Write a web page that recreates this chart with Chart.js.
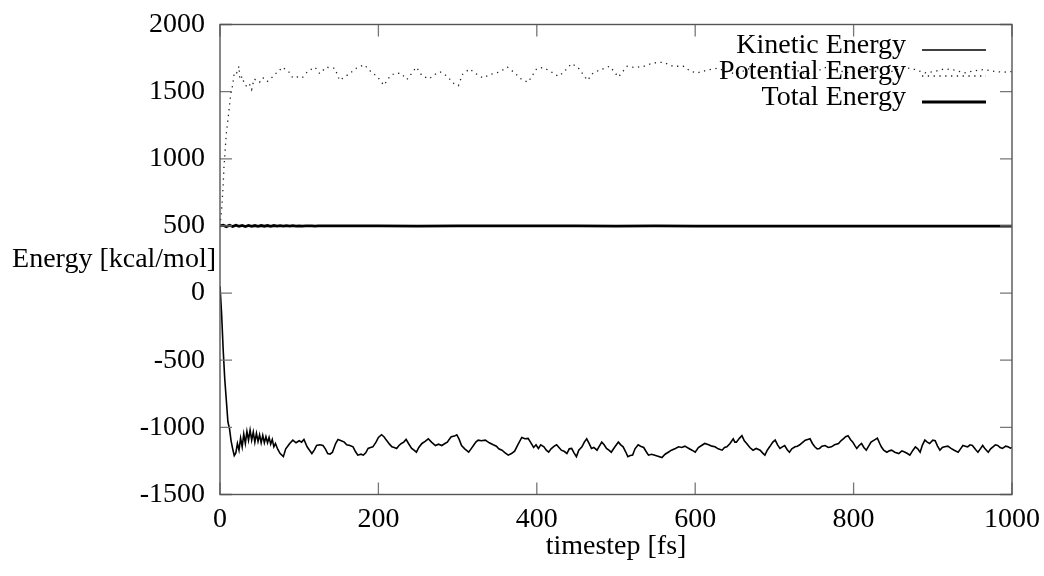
<!DOCTYPE html>
<html>
<head>
<meta charset="utf-8">
<script src="https://cdn.jsdelivr.net/npm/chart.js@4"></script>
<style>
  body { margin: 0; background: #fff; }
  canvas { display: block; }
</style>
</head>
<body>
<canvas id="myChart" width="1044" height="576"></canvas>
<script>
// tick labels
const xTicks = [0, 200, 400, 600, 800, 1000];
const yTicks = [-1500, -1000, -500, 0, 500, 1000, 1500, 2000];

const seriesNames = ['Kinetic Energy', 'Potential Energy', 'Total Energy'];

// thin solid line
const kineticTime = [
  0, 2, 4, 6, 8, 10, 12, 14, 16, 18,
  20, 22, 24, 26, 28, 30, 32, 34, 36, 38,
  40, 42, 44, 46, 48, 50, 52, 54, 56, 58,
  60, 62, 64, 66, 68, 70, 73, 76, 80, 83,
  85, 88, 92, 96, 100, 103, 106, 110, 113, 116,
  119, 122, 126, 130, 133, 136, 139, 142, 146, 149,
  153, 157, 160, 164, 168, 171, 174, 178, 181, 184,
  187, 190, 193, 197, 200, 204, 207, 210, 214, 217,
  220, 223, 226, 229, 232, 235, 238, 242, 245, 248,
  251, 255, 259, 263, 267, 272, 276, 280, 284, 287,
  290, 292, 296, 299, 302, 305, 309, 314, 317, 320,
  323, 326, 330, 335, 340, 345, 349, 352, 356, 360,
  364, 368, 372, 376, 381, 385, 389, 392, 396, 399,
  402, 405, 409, 412, 415, 418, 422, 425, 428, 431,
  435, 438, 441, 444, 447, 450, 453, 457, 460, 463,
  466, 469, 472, 476, 479, 482, 485, 488, 491, 494,
  498, 503, 506, 509, 512, 515, 518, 521, 524, 528,
  531, 535, 538, 541, 545, 549, 553, 558, 562, 566,
  570, 575, 579, 583, 587, 592, 596, 600, 604, 608,
  612, 617, 621, 625, 629, 634, 637, 640, 644, 648,
  650, 652, 656, 659, 662, 665, 669, 673, 677, 682,
  685, 688, 691, 694, 698, 701, 704, 707, 710, 713,
  716, 719, 722, 726, 729, 732, 736, 739, 742, 745,
  748, 751, 754, 757, 760, 764, 768, 772, 776, 781,
  784, 787, 790, 793, 796, 799, 802, 804, 807, 810,
  813, 816, 819, 822, 826, 830, 833, 835, 838, 842,
  845, 848, 852, 857, 861, 865, 868, 871, 875, 878,
  881, 884, 887, 890, 893, 896, 900, 903, 906, 909,
  912, 915, 919, 923, 927, 932, 935, 938, 941, 944,
  947, 950, 954, 957, 960, 963, 966, 970, 973, 976,
  979, 982, 985, 988, 992, 995, 998, 1000
];
const kineticEnergy = [
  50, -150, -420, -640, -800, -960, -1010, -1100, -1160, -1210,
  -1190, -1120, -1170, -1080, -1145, -1050, -1120, -1030, -1095, -1020,
  -1095, -1035, -1110, -1045, -1105, -1055, -1115, -1060, -1115, -1070,
  -1115, -1075, -1125, -1090, -1145, -1120, -1165, -1195, -1218, -1160,
  -1145, -1120, -1095, -1115, -1100, -1110, -1090, -1145, -1170, -1195,
  -1170, -1135, -1130, -1135, -1160, -1195, -1200, -1185, -1120, -1090,
  -1100, -1110, -1130, -1135, -1145, -1180, -1207, -1200, -1207, -1190,
  -1157, -1150, -1145, -1110, -1075, -1055, -1070, -1095, -1125, -1145,
  -1150, -1157, -1135, -1120, -1110, -1090, -1120, -1157, -1170, -1185,
  -1150, -1120, -1105, -1085, -1110, -1135, -1125, -1135, -1120, -1110,
  -1085, -1070, -1065, -1055, -1090, -1135, -1160, -1185, -1160, -1135,
  -1110, -1095, -1100, -1095, -1115, -1130, -1140, -1160, -1170, -1190,
  -1207, -1195, -1177, -1130, -1075, -1085, -1082, -1110, -1150, -1130,
  -1157, -1130, -1145, -1170, -1185, -1160, -1140, -1130, -1150, -1170,
  -1180, -1195, -1160, -1157, -1190, -1218, -1170, -1145, -1110, -1085,
  -1120, -1157, -1150, -1170, -1140, -1110, -1130, -1157, -1170, -1185,
  -1150, -1110, -1130, -1145, -1180, -1218, -1210, -1207, -1160, -1130,
  -1140, -1150, -1180, -1207, -1200, -1207, -1215, -1225, -1200, -1185,
  -1170, -1157, -1145, -1150, -1140, -1157, -1170, -1185, -1150, -1135,
  -1120, -1130, -1140, -1145, -1160, -1170, -1150, -1145, -1120, -1085,
  -1110, -1110, -1080, -1062, -1100, -1120, -1150, -1170, -1157, -1170,
  -1190, -1207, -1170, -1145, -1110, -1095, -1130, -1157, -1145, -1135,
  -1165, -1185, -1160, -1145, -1140, -1130, -1110, -1095, -1090, -1085,
  -1120, -1145, -1160, -1157, -1140, -1135, -1150, -1145, -1130, -1120,
  -1100, -1085, -1070, -1062, -1090, -1110, -1140, -1157, -1135, -1120,
  -1150, -1170, -1140, -1110, -1095, -1080, -1120, -1145, -1170, -1185,
  -1175, -1170, -1185, -1195, -1175, -1185, -1195, -1207, -1170, -1145,
  -1160, -1185, -1130, -1095, -1110, -1120, -1095, -1100, -1140, -1170,
  -1150, -1145, -1140, -1157, -1170, -1185, -1160, -1135, -1140, -1145,
  -1130, -1135, -1165, -1185, -1160, -1135, -1160, -1185, -1160, -1145,
  -1130, -1135, -1150, -1157, -1140, -1145, -1155, -1150
];

// dotted line (upper curve)
const potentialTime = [
  0, 2, 4, 5, 6, 8, 10, 12, 14, 16,
  18, 21, 24, 25, 28, 31, 34, 37, 40, 43,
  46, 50, 53, 57, 60, 63, 67, 70, 74, 78,
  82, 87, 92, 98, 104, 111, 120, 126, 134, 145,
  151, 163, 172, 182, 190, 199, 207, 215, 222, 229,
  236, 244, 248, 255, 264, 271, 278, 287, 294, 301,
  306, 315, 323, 332, 341, 353, 363, 372, 381, 389,
  400, 408, 417, 427, 433, 444, 452, 464, 471, 480,
  492, 503, 514, 524, 535, 547, 560, 572, 585, 594,
  602, 615, 628, 640, 652, 665, 678, 690, 703, 716,
  728, 740, 752, 765, 778, 790, 803, 815, 828, 840,
  852, 865, 877, 890, 902, 915, 928, 940, 952, 965,
  978, 990, 1000
];
const potentialEnergy = [
  500, 620, 800, 940, 1020, 1190, 1290, 1400, 1500, 1547,
  1644, 1639, 1689, 1590, 1614, 1550, 1540, 1560, 1515, 1595,
  1584, 1570, 1602, 1600, 1577, 1590, 1614, 1634, 1647, 1682,
  1669, 1647, 1602, 1609, 1604, 1652, 1682, 1634, 1682, 1674,
  1584, 1632, 1674, 1701, 1652, 1609, 1547, 1619, 1639, 1634,
  1590, 1652, 1682, 1619, 1595, 1627, 1647, 1614, 1565, 1545,
  1627, 1669, 1634, 1602, 1627, 1647, 1682, 1640, 1590, 1570,
  1672, 1679, 1652, 1614, 1639, 1709, 1680, 1584, 1639, 1662,
  1689, 1609, 1689, 1679, 1689, 1714, 1719, 1689, 1689, 1652,
  1639, 1660, 1675, 1650, 1630, 1665, 1690, 1655, 1640, 1670,
  1660, 1630, 1650, 1680, 1670, 1640, 1655, 1675, 1650, 1630,
  1660, 1680, 1665, 1640, 1650, 1670, 1660, 1640, 1655, 1665,
  1650, 1645, 1650
];

// thick solid line (flat at ~500)
const totalTime = [
  0, 4, 8, 12, 16, 20, 24, 28, 32, 36,
  40, 44, 48, 52, 56, 60, 64, 68, 72, 76,
  80, 84, 88, 92, 96, 100, 104, 108, 112, 116,
  120, 124, 128, 150, 200, 250, 300, 350, 400, 450,
  500, 550, 600, 650, 700, 750, 800, 850, 900, 950,
  1000
];
const totalEnergy = [
  500, 506, 495, 505, 496, 505, 497, 504, 496, 504,
  497, 503, 497, 503, 498, 503, 497, 503, 498, 502,
  498, 502, 498, 502, 499, 501, 499, 501, 500, 501,
  499, 500, 500, 500, 500, 499, 500, 500, 500, 500,
  499, 500, 499, 499, 499, 499, 498, 498, 498, 498,
  498
];

const pairs = (t, v) => v.map((val, i) => ({ x: t[i], y: val }));

const FONT = "'Liberation Serif', 'Times New Roman', serif";
const FONT_SIZE = 28;

// gnuplot look: inward ticks on all four sides, horizontal y label, legend top right
const gnuplotFrame = {
  id: 'gnuplotFrame',
  afterDatasetsDraw(chart) {
    const { ctx, chartArea: a, scales } = chart;
    const xs = scales.x, ys = scales.y;
    ctx.save();
    ctx.lineWidth = 1.3;
    ctx.strokeStyle = '#777';
    ctx.beginPath();
    xTicks.forEach((t) => {
      const px = xs.getPixelForValue(t);
      ctx.moveTo(px, a.bottom); ctx.lineTo(px, a.bottom - 12);
      ctx.moveTo(px, a.top); ctx.lineTo(px, a.top + 12);
    });
    yTicks.forEach((t) => {
      const py = ys.getPixelForValue(t);
      ctx.moveTo(a.left, py); ctx.lineTo(a.left + 12, py);
      ctx.moveTo(a.right, py); ctx.lineTo(a.right - 12, py);
    });
    ctx.stroke();
    ctx.strokeStyle = '#555';
    ctx.lineWidth = 1.4;
    ctx.strokeRect(a.left, a.top, a.right - a.left, a.bottom - a.top);

    ctx.fillStyle = '#000';
    ctx.font = FONT_SIZE + 'px ' + FONT;
    ctx.textBaseline = 'middle';
    ctx.textAlign = 'right';
    ctx.fillText('Energy [kcal/mol]', 216, (ys.getPixelForValue(500) + ys.getPixelForValue(0)) / 2);
    ctx.textAlign = 'center';
    ctx.fillText('timestep [fs]', (a.left + a.right) / 2, 547);

    // legend
    chart.data.datasets.forEach((ds, i) => {
      const ly = 46 + i * 26;
      ctx.textAlign = 'right';
      ctx.fillStyle = '#000';
      ctx.fillText(ds.label, 906, ly);
      ctx.beginPath();
      ctx.strokeStyle = ds.borderColor;
      ctx.lineWidth = ds.borderWidth;
      ctx.setLineDash(ds.borderDash || []);
      ctx.moveTo(922, ly + 4);
      ctx.lineTo(986, ly + 4);
      ctx.stroke();
      ctx.setLineDash([]);
    });
    ctx.restore();
  }
};

// drop the label-overflow padding so the plot box sits where layout.padding puts it
const fixScale = (w, h) => (scale) => {
  if (w) scale.width = w;
  if (h) scale.height = h;
  scale.paddingTop = 0;
  scale.paddingBottom = 0;
  scale.paddingLeft = 0;
  scale.paddingRight = 0;
};

const ctx = document.getElementById('myChart').getContext('2d');
new Chart(ctx, {
  type: 'line',
  data: {
    datasets: [
      {
        label: seriesNames[0],
        data: pairs(kineticTime, kineticEnergy),
        borderColor: '#000',
        borderWidth: 1.6,
        pointRadius: 0,
        tension: 0,
      },
      {
        label: seriesNames[1],
        data: pairs(potentialTime, potentialEnergy),
        borderColor: '#222',
        borderWidth: 1.3,
        borderDash: [1.3, 4.5],
        pointRadius: 0,
        tension: 0,
      },
      {
        label: seriesNames[2],
        data: pairs(totalTime, totalEnergy),
        borderColor: '#000',
        borderWidth: 2.8,
        pointRadius: 0,
        tension: 0,
      },
    ],
  },
  options: {
    responsive: false,
    devicePixelRatio: 1,
    animation: false,
    layout: { padding: { top: 24.5, right: 32, left: 0, bottom: 0 } },
    plugins: {
      legend: { display: false },
      tooltip: { enabled: false },
    },
    scales: {
      x: {
        type: 'linear',
        min: 0,
        max: 1000,
        grid: { display: false, drawTicks: false },
        border: { display: false },
        ticks: {
          stepSize: 200,
          padding: 8,
          color: '#000',
          maxRotation: 0,
          font: { family: FONT, size: FONT_SIZE },
          callback: (v) => String(v),
        },
        afterFit: fixScale(0, 81.5),
      },
      y: {
        min: -1500,
        max: 2000,
        grid: { display: false, drawTicks: false },
        border: { display: false },
        ticks: {
          stepSize: 500,
          padding: 15,
          color: '#000',
          font: { family: FONT, size: FONT_SIZE },
          callback: (v) => String(v),
        },
        afterFit: fixScale(220, 0),
      },
    },
  },
  plugins: [gnuplotFrame],
});
</script>
</body>
</html>
